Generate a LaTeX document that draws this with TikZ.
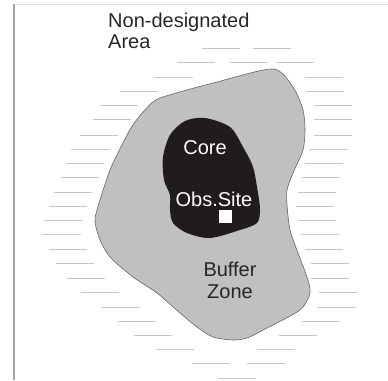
\documentclass[tikz,border=0pt]{standalone}
\usepackage{fontspec}
\setmainfont{Liberation Sans}
\definecolor{bufgray}{RGB}{192,192,192}
\definecolor{coreblack}{RGB}{32,28,28}
\begin{document}
\begin{tikzpicture}[x=1pt,y=-1pt,
	font=\fontsize{20}{21.5}\selectfont,
	hatch/.style={black!22,line width=0.9pt},
	zonetext/.style={inner sep=0pt,text=black!85}]
	\def\d{38}	%length of hatch dash
	\useasboundingbox (0,0) rectangle (388,380);
	
	%FRAME
	\draw[black!12,line width=1pt] (14,4)--(388,4);
	\draw[black!35,line width=1.2pt] (14,4)--(14,380);
	
	%HATCHING
	\foreach \x/\y in {202/48,253/48,177/62,230/62,276/62,155/77,305/77,120/91,306/91,
		100/105,314/105,93/119,314/119,80/135,314/135,71/149,310/149,66/163,305/163,
		61/177,302/177,54/192,298/192,49/206,296/206,44/220,298/220,43/234,301/234,
		49/249,305/249,56/263,311/263,67/278,311/278,81/292,319/292,102/307,318/307,
		118/321,302/321,134/335,279/335,156/349,257/349,192/363,247/363,218/378}{
		\draw[hatch] (\x,\y)--++(\d,0);
	}
	
	%BUFFER ZONE
	\draw[black!60,fill=bufgray,line width=0.6pt] plot[smooth cycle,tension=0.45] coordinates {
		(273,69) (293,87) (303,110) (305,130) (303,150) (293,173) (287,190) (287,205)
		(290,230) (298,253) (307,277) (310,293) (300,310) (267,328) (247,338) (233,340)
		(213,337) (197,327) (180,313) (157,293) (133,277) (110,257) (100,240) (95,222)
		(97,210) (110,170) (127,135) (135,122) (145,110) (160,98) (217,82)};
	
	%CORE
	\fill[coreblack] plot[smooth cycle,tension=0.5] coordinates {
		(205,118) (230,127) (243,147) (253,167) (258,193) (260,210) (257,223) (240,230)
		(210,238) (187,233) (173,223) (170,210) (170,195) (164,180) (163,157) (170,135) (185,121)};
	
	%LABELS
	\node[zonetext,align=left,anchor=north west] (area) at (108,12.4) {Non-designated\\Area};
	\node[inner sep=0pt,text=white] (core) at (205,148) {Core};
	\node[inner sep=0pt,text=white,anchor=base] (site) at (214,206) {Obs.Site};
	\node[fill=white,inner sep=0pt,minimum size=13pt] (obs) at (225,216) {};
	\node[zonetext,align=center,anchor=north] (buffer) at (230,262) {Buffer\\Zone};
\end{tikzpicture}
\end{document}
